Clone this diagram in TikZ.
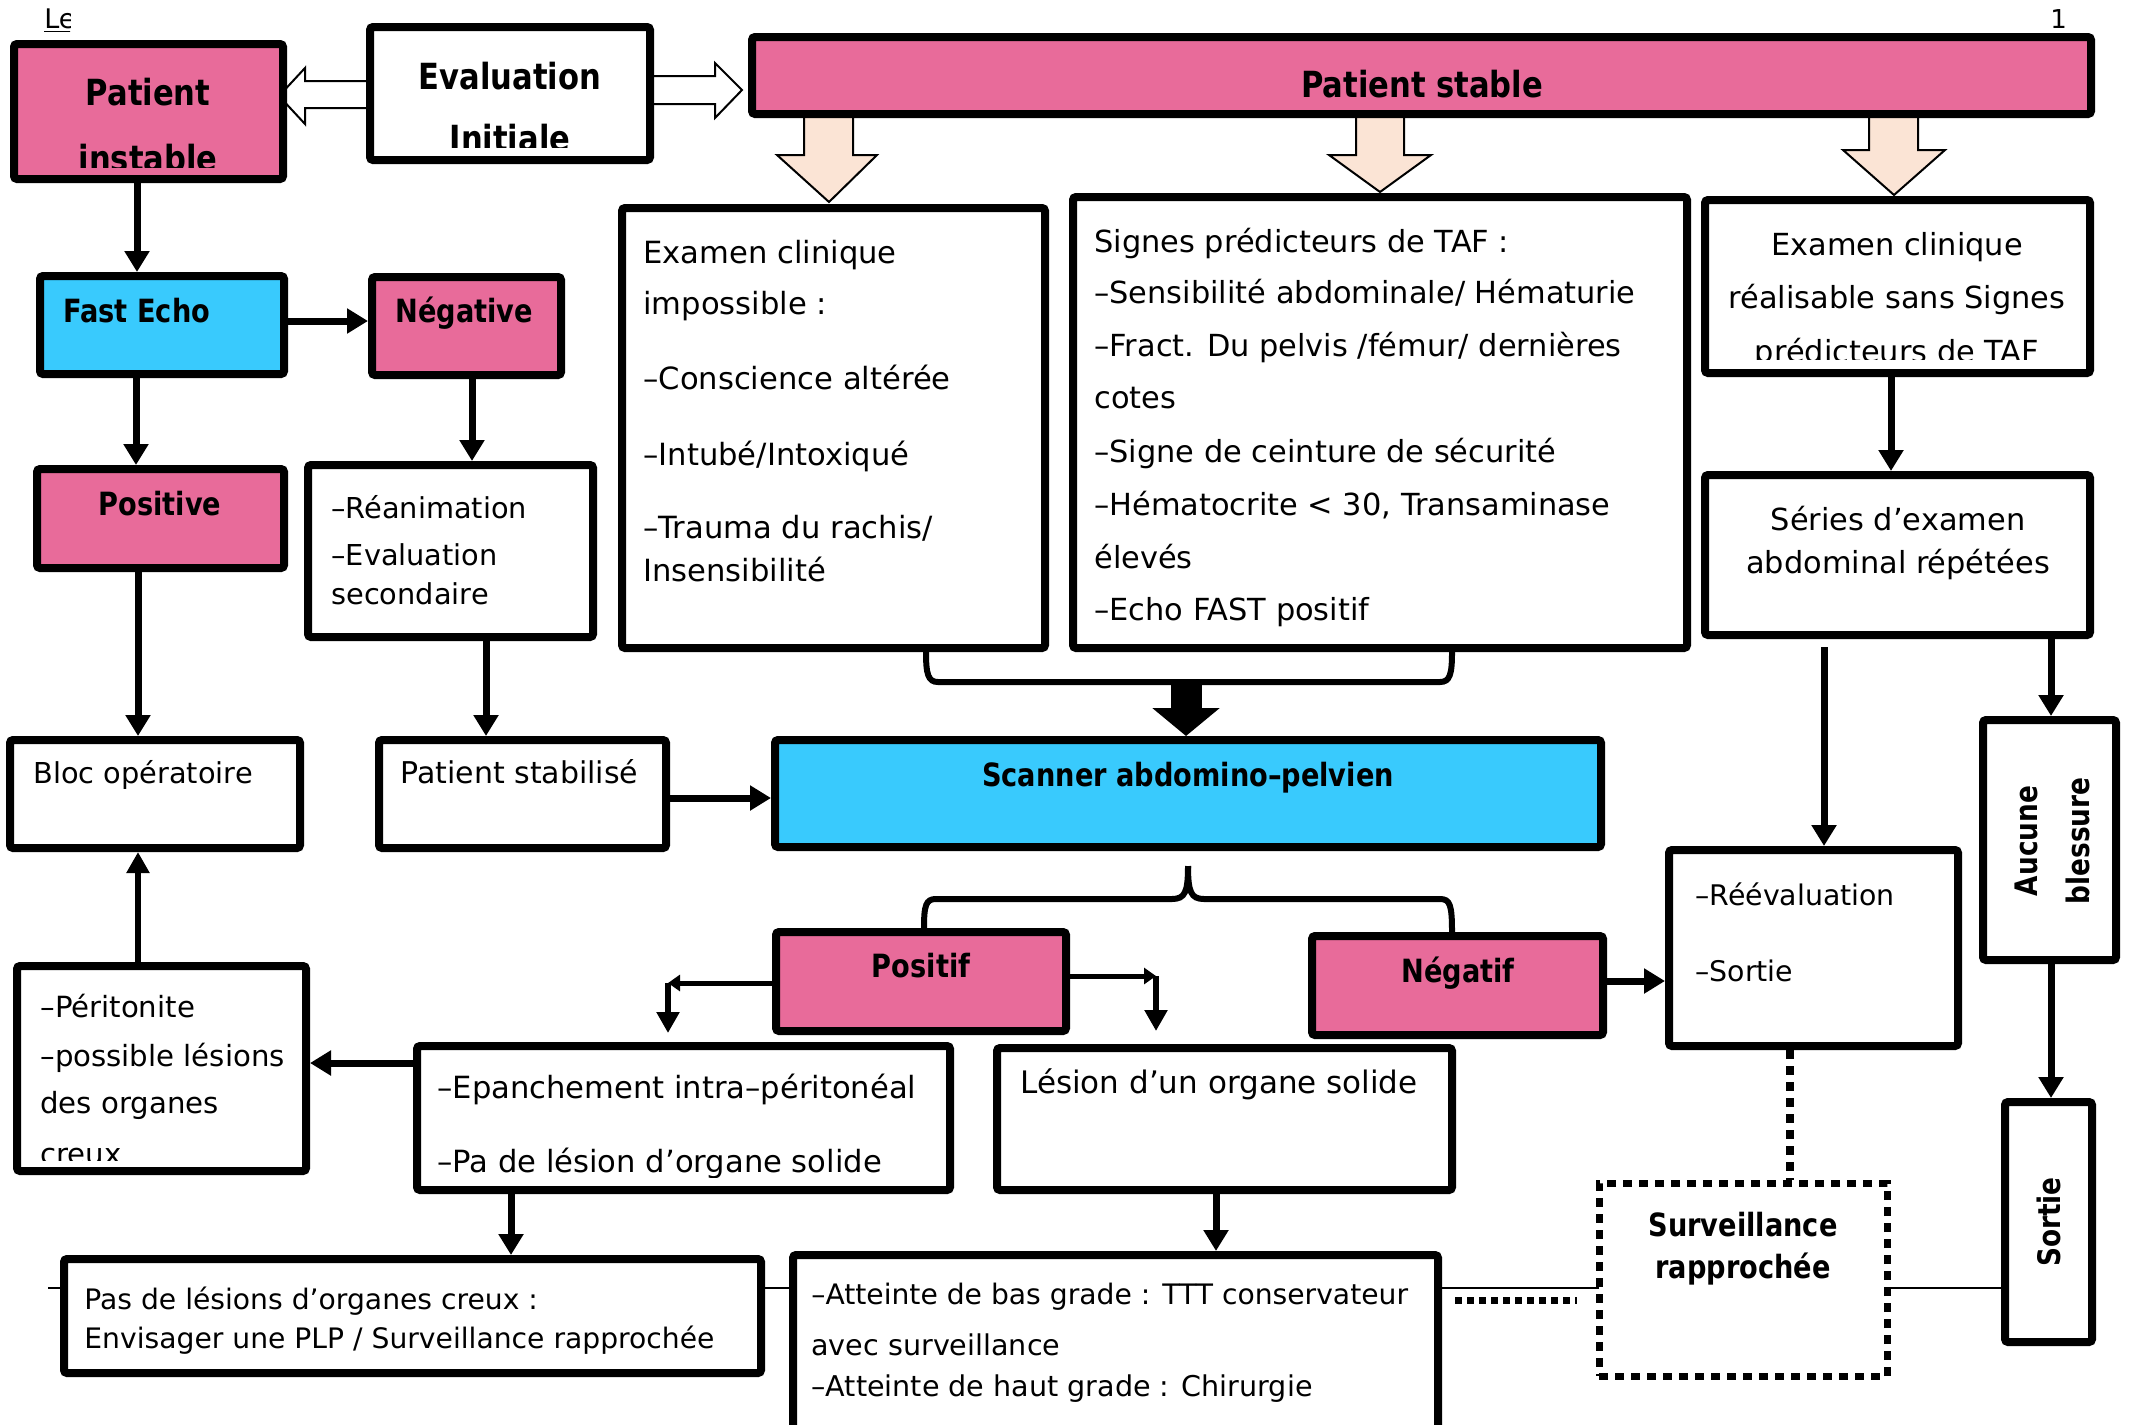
\documentclass[tikz,border=0pt]{standalone}
\usepackage{fontspec}
\setmainfont{DejaVu Sans}
\newfontfamily\cbf[FakeStretch=0.85]{DejaVu Sans}
\usetikzlibrary{arrows.meta,backgrounds}
\definecolor{pk}{HTML}{E86B9A}
\definecolor{bl}{HTML}{39CAFD}
\definecolor{pc}{HTML}{FBE4D5}
\newcommand\bx[6]{\node[box,#6,minimum width={(#4-#2-8)*0.5pt},minimum height={(#5-#3-8)*0.5pt}] (#1) at ({(#2+#4)/2},{(#3+#5)/2}) {};}
\newcommand\tx[5]{\node[#1] (#2) at (#3,#4) {#5};}
\begin{document}
\begin{tikzpicture}[x=0.5pt,y=-0.5pt,
  box/.style={draw=black,line width=4pt,fill=white,inner sep=0pt,rounded corners=1.5pt},
  pinkb/.style={fill=pk},
  blueb/.style={fill=bl},
  survb/.style={line width=3.5pt,dash pattern=on 4.5pt off 3.5pt,rounded corners=0pt},
  tl/.style={anchor=base west,inner sep=0pt},
  tc/.style={anchor=base,inner sep=0pt},
  rsz/.style={font=\fontsize{#1}{#1}\selectfont},
  bsz/.style={font=\cbf\bfseries\fontsize{#1}{#1}\selectfont},
  arr/.style={line width=3.5pt,-{Triangle[width=12pt,length=10.5pt]}},
  arrthin/.style={line width=2.75pt,-{Triangle[width=11pt,length=10.5pt]}},
  elb/.style={line width=2.5pt,-{Triangle[width=8pt,length=6pt]}},
  brc/.style={line width=3pt},
  dotv/.style={line width=4pt,dash pattern=on 4.5pt off 3.5pt},
  dotl/.style={line width=3.5pt,dash pattern=on 3.5pt off 2.5pt},
  hol/.style={fill=white,draw=black,line width=1pt},
  pch/.style={fill=pc,draw=black,line width=1pt}]
\useasboundingbox (0,0) rectangle (2129,1424);
% boxes
\bx{pinst}{10}{40}{287}{183}{pinkb}
\bx{eval}{366}{23}{654}{164}{}
\bx{pstable}{748}{33}{2095}{118}{pinkb}
\bx{eximp}{618}{204}{1049}{652}{}
\bx{signes}{1069}{193}{1691}{652}{}
\bx{exreal}{1701}{196}{2094}{377}{}
\bx{series}{1701}{471}{2094}{639}{}
\bx{fast}{36}{272}{288}{378}{blueb}
\bx{neg}{368}{273}{565}{379}{pinkb}
\bx{posv}{33}{465}{288}{572}{pinkb}
\bx{rean}{304}{461}{597}{641}{}
\bx{bloc}{6}{736}{304}{852}{}
\bx{pstab}{375}{736}{670}{852}{}
\bx{scan}{771}{736}{1605}{851}{blueb}
\bx{posf}{772}{928}{1070}{1035}{pinkb}
\bx{negf}{1308}{932}{1607}{1039}{pinkb}
\bx{reev}{1665}{846}{1962}{1050}{}
\bx{aucune}{1979}{716}{2120}{964}{}
\bx{sortie}{2001}{1098}{2096}{1346}{}
\bx{surv}{1595}{1179}{1891}{1380}{survb}
\bx{perit}{13}{962}{310}{1175}{}
\bx{epan}{413}{1042}{954}{1194}{}
\bx{lesion}{993}{1044}{1456}{1194}{}
\bx{pasles}{60}{1255}{765}{1377}{}
\bx{atteinte}{789}{1251}{1442}{1445}{}
% background: page, thin line, block arrows
\coordinate (thinL) at (48,1288);
\begin{pgfonlayer}{background}
\fill[white] (0,0) rectangle (2129,1424);
\draw[line width=1pt] (thinL) -- (sortie.west |- thinL);
\filldraw[hol] (366,81) -- (305,81) -- (305,68) -- (279,96) -- (305,124) -- (305,108) -- (366,108);
\filldraw[hol] (654,76) -- (715,76) -- (715,63) -- (742,90) -- (715,118) -- (715,104) -- (654,104);
\filldraw[pch] (804,116) -- (804,155) -- (777,155) -- (829,202) -- (877,155) -- (853,155) -- (853,116);
\filldraw[pch] (1356,116) -- (1356,155) -- (1329,155) -- (1380,192) -- (1431,155) -- (1404,155) -- (1404,116);
\filldraw[pch] (1869,116) -- (1869,150) -- (1843,150) -- (1894,195) -- (1945,150) -- (1918,150) -- (1918,116);
\end{pgfonlayer}
% header marks
\begin{scope}
\clip (30,0) rectangle (70,48);
\tx{tl,rsz=13.5}{hle}{44}{28}{\underline{Le}}
\end{scope}
\tx{tl,rsz=13}{hone}{2050}{28}{1}
% bold texts
\tx{tc,bsz=18}{tpi1}{148}{105}{Patient}
\begin{scope}\clip (14,44) rectangle (283,167);
\tx{tc,bsz=18}{tpi2}{148}{171}{instable}
\end{scope}
\tx{tc,bsz=18}{tev1}{510}{89}{Evaluation}
\begin{scope}\clip (370,27) rectangle (650,147);
\tx{tc,bsz=18}{tev2}{510}{151}{Initiale}
\end{scope}
\tx{tc,bsz=18}{tps}{1422}{97}{Patient stable}
\tx{tl,bsz=16}{tfe}{63}{322}{Fast Echo}
\tx{tl,bsz=16}{tng}{395}{322}{Négative}
\tx{tc,bsz=16}{tpv}{160}{515}{Positive}
\tx{tc,bsz=16}{tsc}{1188}{786}{Scanner abdomino–pelvien}
\tx{tc,bsz=16}{tpf}{921}{977}{Positif}
\tx{tc,bsz=16}{tnf}{1458}{982}{Négatif}
\tx{tc,bsz=16}{tsv1}{1743}{1236}{Surveillance}
\tx{tc,bsz=16}{tsv2}{1743}{1278}{rapprochée}
\node[bsz=15.5,rotate=90,inner sep=0pt] (tau1) at (2026,841) {Aucune};
\node[bsz=15.5,rotate=90,inner sep=0pt] (tau2) at (2078,841) {blessure};
\node[bsz=15.5,rotate=90,inner sep=0pt] (tso) at (2049,1222) {Sortie};
% regular texts
\tx{tl,rsz=15.3}{ta1}{643}{263}{Examen clinique}
\tx{tl,rsz=15.3}{ta2}{643}{314}{impossible :}
\tx{tl,rsz=15.3}{ta3}{643}{389}{–Conscience altérée}
\tx{tl,rsz=15.3}{ta4}{643}{465}{–Intubé/Intoxiqué}
\tx{tl,rsz=15.3}{ta5}{643}{538}{–Trauma du rachis/}
\tx{tl,rsz=15.3}{ta6}{643}{581}{Insensibilité}
\tx{tl,rsz=15.2}{tb1}{1094}{252}{Signes prédicteurs de TAF :}
\tx{tl,rsz=15.2}{tb2}{1094}{303}{–Sensibilité abdominale/ Hématurie}
\tx{tl,rsz=15.2}{tb3}{1094}{356}{–Fract. Du pelvis /fémur/ dernières}
\tx{tl,rsz=15.2}{tb4}{1094}{408}{cotes}
\tx{tl,rsz=15.2}{tb5}{1094}{462}{–Signe de ceinture de sécurité}
\tx{tl,rsz=15.2}{tb6}{1094}{515}{–Hématocrite < 30, Transaminase}
\tx{tl,rsz=15.2}{tb7}{1094}{568}{élevés}
\tx{tl,rsz=15.2}{tb8}{1094}{620}{–Echo FAST positif}
\tx{tc,rsz=15.2}{tc1}{1897}{255}{Examen clinique}
\tx{tc,rsz=15.2}{tc2}{1897}{308}{réalisable sans Signes}
\begin{scope}\clip (1705,200) rectangle (2090,359);
\tx{tc,rsz=15.2}{tc3}{1897}{362}{prédicteurs de TAF}
\end{scope}
\tx{tc,rsz=15.2}{td1}{1898}{530}{Séries d’examen}
\tx{tc,rsz=15.2}{td2}{1898}{573}{abdominal répétées}
\tx{tl,rsz=14.4}{te1}{331}{518}{–Réanimation}
\tx{tl,rsz=14.4}{te2}{331}{565}{–Evaluation}
\tx{tl,rsz=14.4}{te3}{331}{604}{secondaire}
\tx{tl,rsz=14.4}{tf1}{33}{783}{Bloc opératoire}
\tx{tl,rsz=15}{tg1}{400}{783}{Patient stabilisé}
\tx{tl,rsz=14.6}{th1}{40}{1017}{–Péritonite}
\tx{tl,rsz=14.6}{th2}{40}{1066}{–possible lésions}
\tx{tl,rsz=14.6}{th3}{40}{1113}{des organes}
\begin{scope}\clip (17,966) rectangle (306,1160);
\tx{tl,rsz=14.6}{th4}{40}{1164}{creux}
\end{scope}
\tx{tl,rsz=15.3}{ti1}{437}{1098}{–Epanchement intra–péritonéal}
\begin{scope}\clip (417,1046) rectangle (950,1177);
\tx{tl,rsz=15.3}{ti2}{437}{1172}{–Pa de lésion d’organe solide}
\end{scope}
\tx{tl,rsz=15.5}{tj1}{1020}{1093}{Lésion d’un organe solide}
\tx{tl,rsz=14.1}{tk1}{84}{1309}{Pas de lésions d’organes creux :}
\tx{tl,rsz=14.1}{tk2}{84}{1348}{Envisager une PLP / Surveillance rapprochée}
\tx{tl,rsz=14.1}{tm1}{811}{1304}{–Atteinte de bas grade : TTT conservateur}
\tx{tl,rsz=14.3}{tm2}{811}{1355}{avec surveillance}
\tx{tl,rsz=14.3}{tm3}{811}{1396}{–Atteinte de haut grade : Chirurgie}
\tx{tl,rsz=14.2}{tn1}{1695}{905}{–Réévaluation}
\tx{tl,rsz=14.2}{tn2}{1695}{981}{–Sortie}
% connectors
\draw[arr] (pinst.south -| 137,0) -- (fast.north -| 137,0);
\draw[arr] (fast.east |- 0,321) -- (neg.west |- 0,321);
\draw[arr] (fast.south -| 136,0) -- (posv.north -| 136,0);
\draw[arr] (neg.south -| 472,0) -- (rean.north -| 472,0);
\draw[arr] (posv.south -| 138,0) -- (bloc.north -| 138,0);
\draw[arr] (rean.south -| 486,0) -- (pstab.north -| 486,0);
\draw[arr] (pstab.east |- 0,798) -- (scan.west |- 0,798);
\draw[arrthin] (perit.north -| 138,0) -- (bloc.south -| 138,0);
\draw[arr] (epan.west |- 0,1063) -- (perit.east |- 0,1063);
\draw[arr] (epan.south -| 511,0) -- (pasles.north -| 511,0);
\draw[arr] (lesion.south -| 1216,0) -- (atteinte.north -| 1216,0);
\draw[arr] (exreal.south -| 1891,0) -- (series.north -| 1891,0);
\coordinate (sg) at (1824,647);
\draw[arr] (sg) -- (reev.north -| sg);
\draw[arr] (series.south -| 2051,0) -- (aucune.north -| 2051,0);
\draw[arr] (aucune.south -| 2051,0) -- (sortie.north -| 2051,0);
\draw[arr] (negf.east |- 0,981) -- (reev.west |- 0,981);
\draw[dotv] (reev.south -| 1790,0) -- (surv.north -| 1790,0);
% brace under the two upper boxes, big arrow to the scanner
\coordinate (b1) at (1186,682);
\draw[brc] (eximp.south -| 926,0) .. controls (926,674) and (928,682) .. (938,682) -- (1440,682) .. controls (1450,682) and (1452,674) .. (signes.south -| 1452,0);
\draw[line width=15.5pt,-{Triangle[width=33pt,length=14pt]}] (b1) -- (scan.north -| b1);
% brace under the scanner
\coordinate (b2) at (1188,866);
\draw[brc] (b2) .. controls (1188,892) and (1185,899) .. (1172,899) -- (936,899) .. controls (926,899) and (924,905) .. (posf.north -| 924,0);
\draw[brc] (b2) .. controls (1188,892) and (1191,899) .. (1204,899) -- (1440,899) .. controls (1450,899) and (1452,905) .. (negf.north -| 1452,0);
% elbow arrows from Positif
\coordinate (cR) at (1156,976);
\coordinate (eR) at (1156,1031);
\draw[elb] (posf.east |- cR) -- (cR);
\draw[arrthin] (cR) -- (eR);
\coordinate (cL) at (668,983);
\coordinate (eL) at (668,1033);
\draw[elb] (posf.west |- cL) -- (cL);
\draw[arrthin] (cL) -- (eL);
% dotted link from the lower box to the surveillance box
\coordinate (d1) at (1455,1300);
\coordinate (d2) at (1577,1300);
\draw[dotl] (d1) -- (d2);
\end{tikzpicture}
\end{document}
